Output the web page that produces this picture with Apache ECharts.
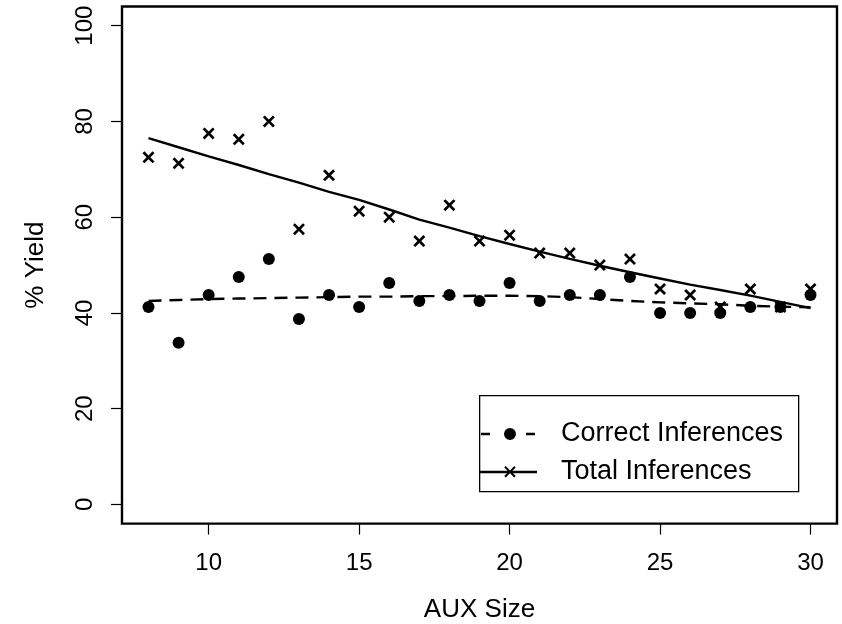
<!DOCTYPE html>
<html>
<head>
<meta charset="utf-8">
<script src="https://cdn.jsdelivr.net/npm/echarts@6/dist/echarts.min.js"></script>
<style>
html,body{margin:0;padding:0;background:#fff;}
#chart{width:842px;height:624px;}
</style>
</head>
<body>
<div id="chart"></div>
<script>
// ---- data ----
const auxSizes = [8,9,10,11,12,13,14,15,16,17,18,19,20,21,22,23,24,25,26,27,28,29,30];
const correctInferences = [41.25,33.75,43.75,47.5,51.25,38.75,43.75,41.25,46.25,42.5,43.75,42.5,46.25,42.5,43.75,43.75,47.5,40,40,40,41.25,41.25,43.75];
const totalInferences = [72.5,71.25,77.5,76.25,80,57.5,68.75,61.25,60,55,62.5,55,56.25,52.5,52.5,50,51.25,45,43.75,41.25,45,41.25,45];
const correctSmooth = [42.5,42.7,42.9,43.0,43.1,43.2,43.3,43.4,43.4,43.5,43.5,43.6,43.6,43.5,43.3,42.9,42.5,42.2,42.0,41.8,41.5,41.3,41.2];
const totalSmooth = [76.5,74.6,72.7,70.9,69.0,67.2,65.3,63.6,61.6,59.5,57.8,56.05,54.4,52.8,51.3,49.85,48.5,47.2,45.9,44.8,43.6,42.3,41.0];
const xTicks = [10,15,20,25,30];
const yTicks = [0,20,40,60,80,100];
const seriesNames = ['Correct Inferences','Total Inferences'];
const xTitle = 'AUX Size';
const yTitle = '% Yield';

const pairs = (ys) => auxSizes.map((x,i)=>[x, ys[i]]);
const FONT = '"Liberation Sans", Helvetica, Arial, sans-serif';
const crossPath = 'path://M0,1.6L1.6,0L5,3.4L8.4,0L10,1.6L6.6,5L10,8.4L8.4,10L5,6.6L1.6,10L0,8.4L3.4,5Z';
// legend icons (box 76 x 20, content in left 57)
const iconCorrect = 'path://M0,0h0.01v0.01h-0.01z M76,20h0.01v0.01h-0.01z M1,8.8h9v2.4h-9z M46,8.8h9v2.4h-9z M24,10a6,6 0 1,0 12,0a6,6 0 1,0 -12,0z';
const iconTotal = 'path://M0,0h0.01v0.01h-0.01z M76,20h0.01v0.01h-0.01z M0,8.8h57v2.4h-57z M24.3,5.5L25.7,4.1L30,8.4L34.3,4.1L35.7,5.5L31.4,9.8L35.7,14.1L34.3,15.5L30,11.2L25.7,15.5L24.3,14.1L28.6,9.8Z';

const chart = echarts.init(document.getElementById('chart'), null, {renderer:'canvas'});
chart.setOption({
  animation:false,
  backgroundColor:'#ffffff',
  textStyle:{fontFamily:FONT, color:'#000'},
  grid:{left:122, right:5, top:6.5, bottom:100.4, outerBoundsMode:'none', containLabel:false,
        show:true, borderColor:'#000', borderWidth:2.4, backgroundColor:'transparent'},
  xAxis:{
    type:'value', min:7.12, max:30.88,
    axisLine:{show:false, onZero:false},
    splitLine:{show:false},
    axisTick:{show:true, inside:false, length:11, lineStyle:{color:'#000', width:1.2}, customValues:xTicks},
    axisLabel:{show:true, color:'#000', fontSize:24, fontFamily:FONT, margin:28, customValues:xTicks},
    name:xTitle, nameLocation:'middle', nameGap:73,
    nameTextStyle:{color:'#000', fontSize:26, fontFamily:FONT}
  },
  yAxis:{
    type:'value', min:-4, max:104,
    axisLine:{show:false, onZero:false},
    splitLine:{show:false},
    axisTick:{show:true, inside:false, length:11, lineStyle:{color:'#000', width:1.2}, customValues:yTicks},
    axisLabel:{show:true, color:'#000', fontSize:24, fontFamily:FONT, margin:25, rotate:90, customValues:yTicks},
    name:yTitle, nameLocation:'middle', nameGap:73, nameRotate:90,
    nameTextStyle:{color:'#000', fontSize:26, fontFamily:FONT}
  },
  legend:{
    show:true, orient:'vertical', left:480, top:420.5, padding:0,
    itemWidth:76, itemHeight:20, itemGap:11,
    textStyle:{color:'#000', fontSize:27, fontFamily:FONT},
    selectedMode:false,
    data:[
      {name:seriesNames[0], icon:iconCorrect, itemStyle:{color:'#000', borderWidth:0}},
      {name:seriesNames[1], icon:iconTotal, itemStyle:{color:'#000', borderWidth:0}}
    ]
  },
  graphic:[
    {type:'rect', left:479, top:395, z:-1, shape:{width:319, height:96}, style:{fill:'#fff', stroke:'#000', lineWidth:1.3}}
  ],
  series:[
    {name:seriesNames[0], type:'line', data:pairs(correctSmooth), showSymbol:false, symbol:'none',
     lineStyle:{color:'#000', width:2.4, type:[13,8]}, itemStyle:{color:'#000'}, z:2},
    {name:seriesNames[0], type:'scatter', data:pairs(correctInferences), symbol:'circle', symbolSize:12,
     itemStyle:{color:'#000', opacity:1}, z:3},
    {name:seriesNames[1], type:'line', data:pairs(totalSmooth), showSymbol:false, symbol:'none',
     lineStyle:{color:'#000', width:2.4}, itemStyle:{color:'#000'}, z:2},
    {name:seriesNames[1], type:'scatter', data:pairs(totalInferences), symbol:crossPath, symbolSize:12,
     itemStyle:{color:'#000', opacity:1}, z:3}
  ]
});
</script>
</body>
</html>
